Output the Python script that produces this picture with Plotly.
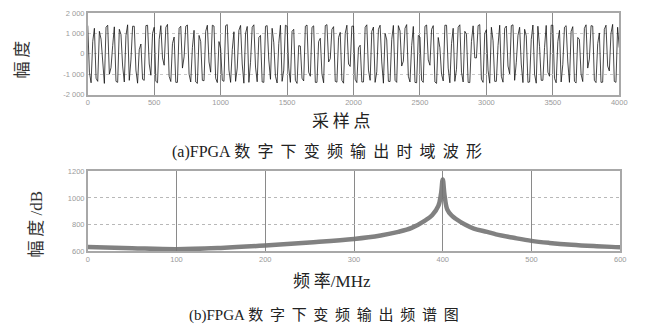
import plotly.graph_objects as go

# ---- top chart: time-domain samples (read every 12.5 samples, two interleaved lists) ----
t_values_a = [
    1380, -1420, 1250, -1350, 720, -1450, 1400, -680, 1320, -1400, 950, -1380, 1420, -300, 1350, -1440, 480, -1300, 1400, -1050,
    1300, -1420, 1380, -560, 1440, -1360, 820, -1400, 1350, -150, 1410, -1380, 1150, -1450, 600, -1320, 1400, -900, 1360, -1410,
    260, -1350, 1430, -1400, 1080, -700, 1390, -1440, 1340, -420, 1420, -1370, 900, -1400, 1380, -1250, 540, -1430, 1400, -800,
    1350, -1400, 1200, -1450, 380, -1330, 1410, -1100, 1370, -1400, 760, -1420, 1430, -240, 1330, -1390, 1050, -1440, 1400, -620,
    1360, -1410, 420, -1380, 1420, -1300, 1310, -880, 1400, -1440, 680, -1360, 1390, -1400, 1120, -360, 1430, -1380, 1340, -1420,
    820, -1400, 1410, -560, 1380, -1450, 300, -1330, 1400, -1420, 1250, -760, 1420, -1380, 960, -1410, 1370, -200, 1430, -1400,
    1180, -1440, 640, -1350, 1400, -1390, 1360, -980, 1420, -420, 1300, -1410, 880, -1380, 1410, -1440, 360, -1300, 1390, -1100,
    1400, -1420, 1150, -520, 1380, -1400, 1330, -1430, 700, -1360, 1420, -260, 1360, -1410, 1020, -1390, 1400, -840, 1440, -1400,
    300,
]
t_values_b = [
    -900, 600, -1200, 1100, -300, 1300, -1000, 400, -1350, 1200, -600, 900, -1300, 1350, -800, 200, -1250, 1380, -500, 1000,
    -1350, 700, -200, 1300, -1100, 500, -1400, 1250, -700, 1350, -1000, 300, -1380, 900, -1300, 1100, -400, 1400, -1200, 600,
    -1300, 1380, -800, 200, -1350, 1150, -500, 1000, -1400, 1300, -650, 800, -1380, 1350, -300, 1250, -1100, 500, -1350, 1400,
    -700, 1100, -1300, 400, -1200, 1350, -900, 1300, -1400, 600, -1000, 1380, -400, 1200, -1350, 800, -1300, 1000, -500, 1350,
    -1250, 300, -1380, 1300, -800, 1100, -1400, 1200, -400, 1000, -1350, 700, -1300, 1380, -600, 1250, -1100, 400, -1400, 900,
    -1300, 1350, -300, 1200, -1380, 800, -1000, 1400, -700, 500, -1350, 1300, -900, 1100, -1400, 600, -200, 1380, -1250, 1000,
    -800, 1300, -1350, 400, -1100, 1250, -600, 1380, -1300, 900, -500, 1200, -1400, 700, -1000, 1350, -1300, 300, -900, 1400,
    -1200, 600, -1380, 1300, -400, 1100, -1350, 800, -1000, 1250, -700, 1380, -1300, 500, -1400, 1200, -600, 1000, -1350, 1300,
]
t_step = 25
t_xticks = [0, 500, 1000, 1500, 2000, 2500, 3000, 3500, 4000]
t_yticks = [-2000, -1000, 0, 1000, 2000]
t_yticklabels = ["-2 000", "-1 000", "0", "1 000", "2 000"]

t_x, t_y = [], []
for i, a in enumerate(t_values_a):
    t_x.append(i * t_step); t_y.append(a)
    if i < len(t_values_b):
        t_x.append(i * t_step + t_step / 2); t_y.append(t_values_b[i])

# ---- bottom chart: spectrum ----
f_mhz = [0, 50, 100, 150, 200, 250, 300, 330, 350, 365, 380, 388, 395, 398, 400,
         402, 405, 410, 415, 425, 435, 450, 460, 480, 500, 520, 545, 570, 590, 600]
f_db = [632, 622, 614, 624, 642, 665, 692, 718, 745, 775, 830, 870, 940, 1030, 1140,
        1020, 915, 868, 842, 800, 770, 745, 726, 700, 677, 662, 648, 638, 632, 630]
f_xticks = [0, 100, 200, 300, 400, 500, 600]
f_yticks = [600, 800, 1000, 1200]

# page body has an 8px margin: figure is placed at (8, 8)
OFF = 8
FW, FH = 645 - OFF, 330 - OFF
def px(x): return (x - OFF) / FW
def py(y): return 1 - (y - OFF) / FH

fig = go.Figure()
fig.add_trace(go.Scatter(x=t_x, y=t_y, mode="lines",
                         line=dict(color="rgba(15,15,15,0.85)", width=0.9),
                         xaxis="x", yaxis="y", showlegend=False))
fig.add_trace(go.Scatter(x=f_mhz, y=f_db, mode="lines", line_shape="spline",
                         line=dict(color="rgba(115,115,115,0.9)", width=4.5),
                         xaxis="x2", yaxis="y2", showlegend=False))

tickfont = dict(family="Liberation Sans", size=7.5, color="#9a9a9a")
axis_common = dict(showline=True, linecolor="#a8a8a8", linewidth=1.5, mirror=True,
                   ticks="", tickfont=tickfont, zeroline=False)

fig.update_layout(
    width=FW, height=FH, margin=dict(l=0, r=0, t=0, b=0),
    paper_bgcolor="white", plot_bgcolor="white",
    xaxis=dict(domain=[px(87), px(627)], anchor="y", range=[0, 4000],
               tickvals=t_xticks, showgrid=True, gridcolor="#8a8a8a", gridwidth=1,
               **axis_common),
    yaxis=dict(domain=[py(93), py(9)], anchor="x", range=[-2000, 2000],
               tickvals=t_yticks, ticktext=t_yticklabels,
               showgrid=True, gridcolor="#c8c8c8", griddash="dot", gridwidth=1,
               **axis_common),
    xaxis2=dict(domain=[px(87), px(628)], anchor="y2", range=[0, 600],
                tickvals=f_xticks, showgrid=True, gridcolor="#8a8a8a", gridwidth=1,
                **axis_common),
    yaxis2=dict(domain=[py(254), py(172)], anchor="x2", range=[600, 1200],
                tickvals=f_yticks, showgrid=True, gridcolor="#b8b8b8", griddash="dot",
                gridwidth=1, **axis_common),
)

cjk = "Noto Sans CJK SC"
sp = "&nbsp;"
annos = [
    dict(text=f"采{sp}样{sp}点", x=px(345), y=py(119), font=dict(family=cjk, size=17, color="#222")),
    dict(text=f"幅{sp}度", x=px(19), y=py(57), textangle=-90, font=dict(family=cjk, size=17, color="#333")),
    dict(text="<span style='font-family:Liberation Serif'>(a)FPGA</span>" + sp
         + (sp + sp).join("数字下变频输出时域波形"),
         x=px(330), y=py(150), font=dict(family=cjk, size=16, color="#222")),
    dict(text=f"频{sp}率<span style='font-family:Liberation Serif'>/MHz</span>", x=px(335), y=py(283),
         font=dict(family=cjk, size=17, color="#222")),
    dict(text=f"幅{sp}度<span style='font-family:Liberation Serif'>{sp}/dB</span>", x=px(33), y=py(226),
         textangle=-90, font=dict(family=cjk, size=17, color="#333")),
    dict(text="<span style='font-family:Liberation Serif'>(b)FPGA</span>" + sp
         + (sp + sp).join("数字下变频输出频谱图"),
         x=px(327), y=py(318), font=dict(family=cjk, size=15, color="#222")),
]
for a in annos:
    a.update(xref="paper", yref="paper", showarrow=False, xanchor="center", yanchor="middle")
fig.update_layout(annotations=annos)

fig.write_html("out.html")
